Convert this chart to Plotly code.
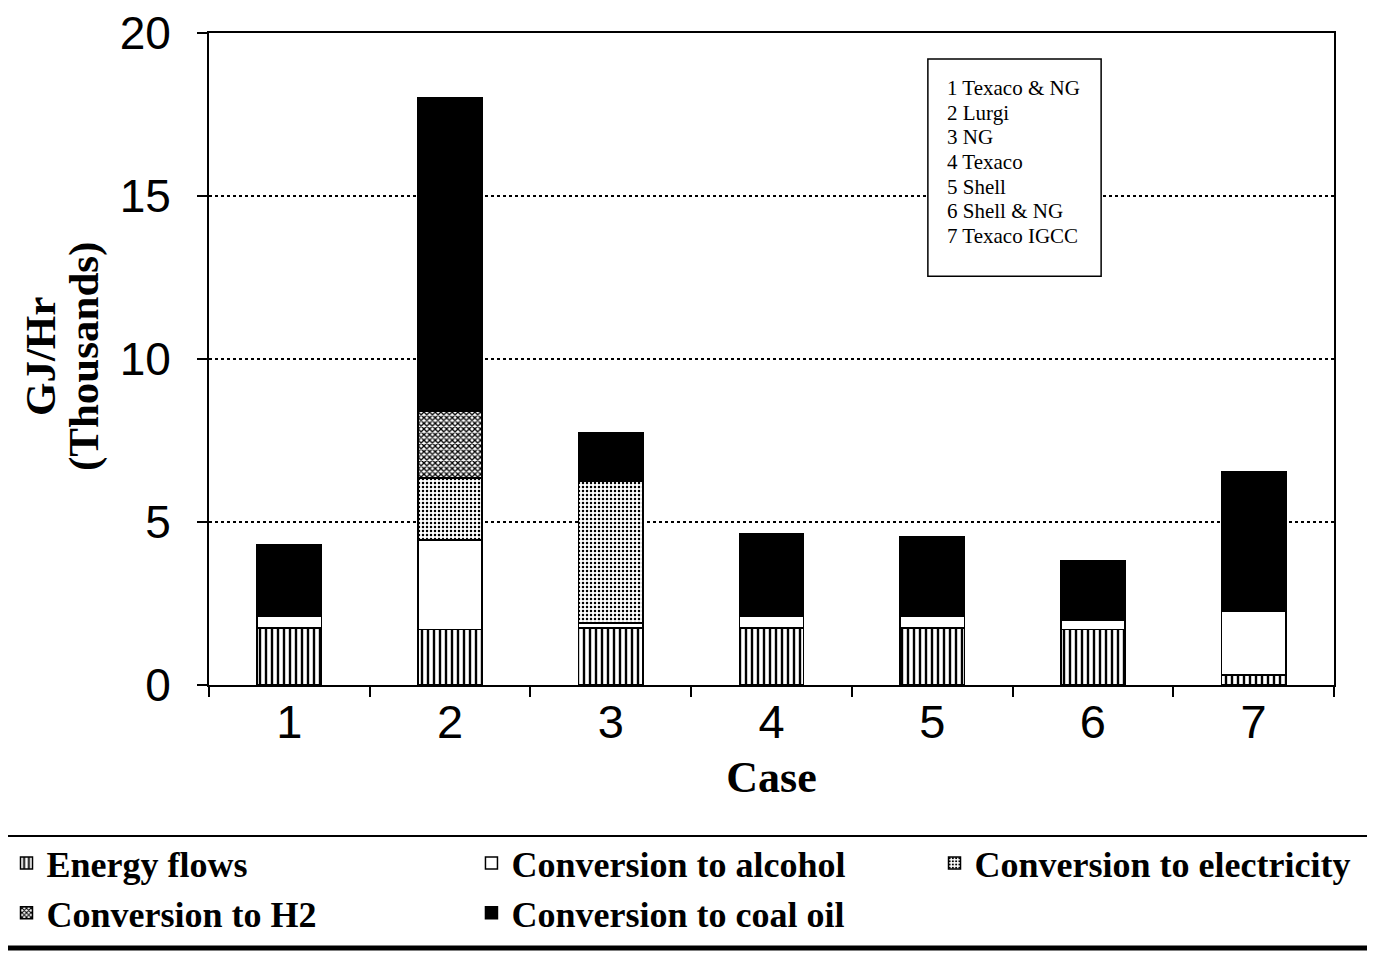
import plotly.graph_objects as go

cases = ["1", "2", "3", "4", "5", "6", "7"]
energy_flows = [1.75, 1.7, 1.75, 1.75, 1.75, 1.7, 0.3]
conv_alcohol = [0.35, 2.75, 0.15, 0.35, 0.35, 0.3, 1.95]
conv_electricity = [None, 1.9, 4.35, None, None, None, None]
conv_h2 = [None, 2.05, None, None, None, None, None]
conv_coal_oil = [2.2, 9.6, 1.5, 2.55, 2.45, 1.8, 4.3]
case_names = ["Texaco & NG", "Lurgi", "NG", "Texaco", "Shell", "Shell & NG", "Texaco IGCC"]
y_ticks = [0, 5, 10, 15, 20]

SERIF = "Liberation Serif"
SANS = "Liberation Sans"

# (name, values, marker, legend column)
series = [
    ("Energy flows", energy_flows, dict(color="white", pattern=dict(shape="|", size=6, solidity=0.4, fgcolor="black", bgcolor="white", fillmode="replace")), "legend"),
    ("Conversion to alcohol", conv_alcohol, dict(color="white"), "legend2"),
    ("Conversion to electricity", conv_electricity, dict(color="white", pattern=dict(shape=".", size=4, solidity=0.3, fgcolor="black", bgcolor="white", fillmode="replace")), "legend3"),
    ("Conversion to H2", conv_h2, dict(color="white", pattern=dict(shape="x", size=4, solidity=0.55, fgcolor="black", bgcolor="white", fillmode="replace")), "legend"),
    ("Conversion to coal oil", conv_coal_oil, dict(color="black"), "legend2"),
]

fig = go.Figure()
for name, vals, mk, lg in series:
    mk = dict(mk)
    mk["line"] = dict(color="black", width=1.5)
    fig.add_trace(go.Bar(x=cases, y=vals, name=name, marker=mk, legend=lg))

legend_common = dict(
    orientation="v",
    y=-0.227, yanchor="top", xanchor="left",
    font=dict(family=SERIF, size=36, color="black", weight="bold"),
    bgcolor="rgba(0,0,0,0)",
    borderwidth=0,
    traceorder="normal",
    tracegroupgap=0,
)

fig.update_layout(
    barmode="stack",
    bargap=0.6,
    width=1375,
    height=954,
    paper_bgcolor="white",
    plot_bgcolor="white",
    margin=dict(l=201, r=49, t=25, b=277, autoexpand=False),
    font=dict(family=SERIF, color="black"),
    xaxis=dict(
        type="category",
        automargin=False,
        showline=True, linecolor="black", linewidth=2, mirror=True,
        ticks="outside", ticklen=10, tickwidth=2, tickcolor="black",
        tickson="boundaries",
        ticklabelstandoff=-5,
        tickfont=dict(family=SANS, size=47, color="black"),
        title=dict(text="<b>Case</b>", font=dict(family=SERIF, size=44, color="black"), standoff=14),
        showgrid=False,
    ),
    yaxis=dict(
        range=[0, 20],
        tickvals=y_ticks,
        automargin=False,
        ticklabeloverflow="allow",
        showline=True, linecolor="black", linewidth=2, mirror=True,
        ticks="outside", ticklen=10, tickwidth=2, tickcolor="black",
        ticklabelstandoff=17,
        tickfont=dict(family=SANS, size=46, color="black"),
        showgrid=True, gridcolor="black", gridwidth=1.5, griddash="dot",
        zeroline=False,
    ),
    legend=dict(legend_common, x=-0.180),
    legend2=dict(legend_common, x=0.2333),
    legend3=dict(legend_common, x=0.6449),
)

# y-axis title (two lines)
fig.add_annotation(xref="paper", yref="paper", x=-0.1502, y=0.503, xanchor="center", yanchor="middle",
                   text="<b>GJ/Hr</b>", textangle=-90, showarrow=False,
                   font=dict(family=SERIF, size=43, color="black"))
fig.add_annotation(xref="paper", yref="paper", x=-0.1111, y=0.503, xanchor="center", yanchor="middle",
                   text="<b>(Thousands)</b>", textangle=-90, showarrow=False,
                   font=dict(family=SERIF, size=43, color="black"))

# legend frame
fig.add_shape(type="rect", xref="paper", yref="paper", x0=-0.1838, x1=1.032, y0=-0.2316, y1=-0.4034,
              line=dict(color="black", width=2))
fig.add_shape(type="line", xref="paper", yref="paper", x0=-0.1838, x1=1.032, y0=-0.4034, y1=-0.4034,
              line=dict(color="black", width=5))
fig.add_shape(type="line", xref="paper", yref="paper", x0=1.032, x1=1.032, y0=-0.2316, y1=-0.4034,
              line=dict(color="black", width=4))

# case names box
fig.add_shape(type="rect", xref="paper", yref="paper", x0=0.639, x1=0.793, y0=0.627, y1=0.960,
              line=dict(color="black", width=1.5), fillcolor="white", layer="above")
for i, n in enumerate(case_names):
    fig.add_annotation(
        xref="paper", yref="paper", x=0.654, y=0.9156 - i * 0.03784, xanchor="left", yanchor="middle",
        align="left", showarrow=False,
        text=f"{i + 1} {n}",
        font=dict(family=SERIF, size=21, color="black"),
    )

fig.write_html("out.html")
